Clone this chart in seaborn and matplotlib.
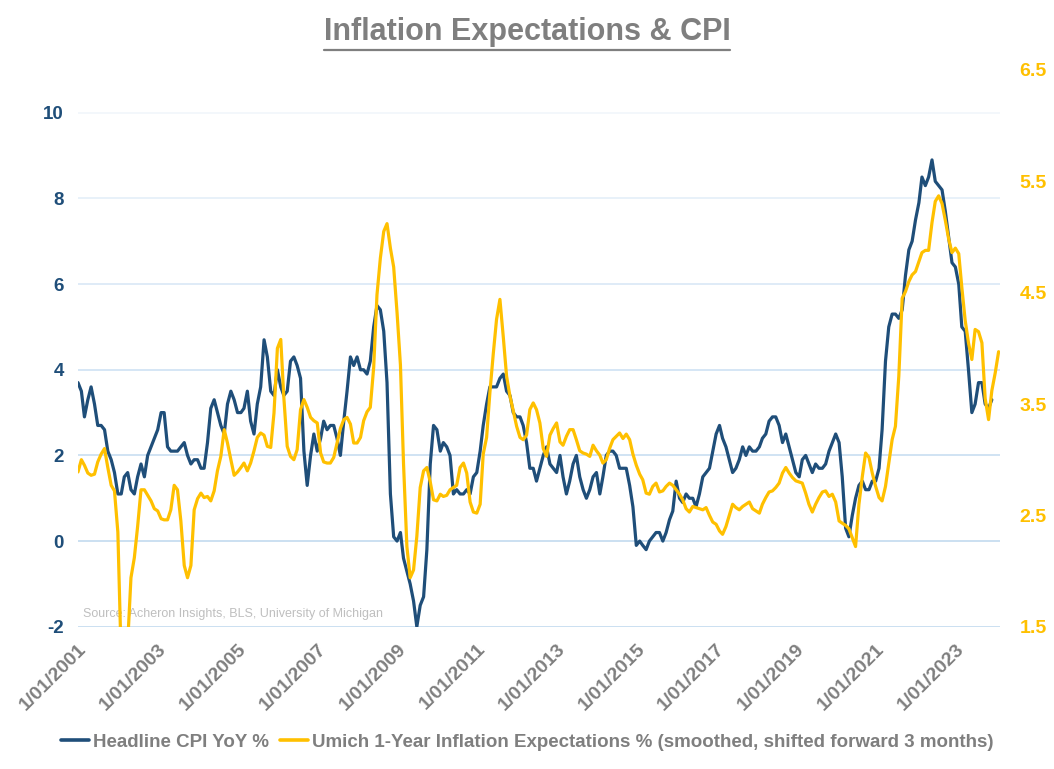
import pandas as pd
import matplotlib.pyplot as plt
import seaborn as sns
from matplotlib.lines import Line2D

# headline CPI YoY %, monthly from Jan 2001
cpi_start = "2001-01-01"
cpi_yoy = [
    3.7, 3.5, 2.9, 3.3, 3.6, 3.2, 2.7, 2.7, 2.6, 2.1, 1.9, 1.6,
    1.1, 1.1, 1.5, 1.6, 1.2, 1.1, 1.5, 1.8, 1.5, 2.0, 2.2, 2.4,
    2.6, 3.0, 3.0, 2.2, 2.1, 2.1, 2.1, 2.2, 2.3, 2.0, 1.8, 1.9,
    1.9, 1.7, 1.7, 2.3, 3.1, 3.3, 3.0, 2.7, 2.5, 3.2, 3.5, 3.3,
    3.0, 3.0, 3.1, 3.5, 2.8, 2.5, 3.2, 3.6, 4.7, 4.3, 3.5, 3.4,
    4.0, 3.6, 3.4, 3.5, 4.2, 4.3, 4.1, 3.8, 2.1, 1.3, 2.0, 2.5,
    2.1, 2.4, 2.8, 2.6, 2.7, 2.7, 2.4, 2.0, 2.8, 3.5, 4.3, 4.1,
    4.3, 4.0, 4.0, 3.9, 4.2, 5.0, 5.5, 5.4, 4.9, 3.7, 1.1, 0.1,
    0.0, 0.2, -0.4, -0.7, -1.0, -1.4, -2.0, -1.5, -1.3, -0.2, 1.8, 2.7,
    2.6, 2.1, 2.3, 2.2, 2.0, 1.1, 1.2, 1.1, 1.1, 1.2, 1.1, 1.5,
    1.6, 2.1, 2.7, 3.2, 3.6, 3.6, 3.6, 3.8, 3.9, 3.5, 3.4, 3.0,
    2.9, 2.9, 2.7, 2.3, 1.7, 1.7, 1.4, 1.7, 2.0, 2.2, 1.8, 1.7,
    1.6, 2.0, 1.5, 1.1, 1.4, 1.8, 2.0, 1.5, 1.2, 1.0, 1.2, 1.5,
    1.6, 1.1, 1.5, 2.0, 2.1, 2.1, 2.0, 1.7, 1.7, 1.7, 1.3, 0.8,
    -0.1, 0.0, -0.1, -0.2, 0.0, 0.1, 0.2, 0.2, 0.0, 0.2, 0.5, 0.7,
    1.4, 1.0, 0.9, 1.1, 1.0, 1.0, 0.8, 1.1, 1.5, 1.6, 1.7, 2.1,
    2.5, 2.7, 2.4, 2.2, 1.9, 1.6, 1.7, 1.9, 2.2, 2.0, 2.2, 2.1,
    2.1, 2.2, 2.4, 2.5, 2.8, 2.9, 2.9, 2.7, 2.3, 2.5, 2.2, 1.9,
    1.6, 1.5, 1.9, 2.0, 1.8, 1.6, 1.8, 1.7, 1.7, 1.8, 2.1, 2.3,
    2.5, 2.3, 1.5, 0.3, 0.1, 0.6, 1.0, 1.3, 1.4, 1.2, 1.2, 1.4,
    1.4, 1.7, 2.6, 4.2, 5.0, 5.3, 5.3, 5.2, 5.4, 6.2, 6.8, 7.0,
    7.5, 7.9, 8.5, 8.3, 8.5, 8.9, 8.4, 8.3, 8.2, 7.7, 7.1, 6.5,
    6.4, 6.0, 5.0, 4.9, 4.0, 3.0, 3.2, 3.7, 3.7, 3.2, 3.1, 3.3,
]

# Umich 1-year inflation expectations % (smoothed, shifted forward 3 months)
umich_start = "2001-01-01"
umich_1yr = [
    2.89, 3.00, 2.95, 2.88, 2.86, 2.87, 2.98, 3.05, 3.10, 2.93, 2.77, 2.72,
    2.35, 1.20, 1.00, 1.35, 1.94, 2.12, 2.40, 2.73, 2.73, 2.68, 2.63, 2.56,
    2.54, 2.47, 2.46, 2.46, 2.55, 2.77, 2.73, 2.45, 2.05, 1.94, 2.05, 2.55,
    2.65, 2.70, 2.66, 2.67, 2.63, 2.72, 2.90, 3.03, 3.27, 3.15, 3.00, 2.86,
    2.89, 2.93, 2.97, 2.90, 2.97, 3.08, 3.20, 3.24, 3.22, 3.12, 3.11, 3.42,
    4.00, 4.08, 3.56, 3.12, 3.03, 3.00, 3.09, 3.45, 3.54, 3.47, 3.38, 3.35,
    3.33, 3.06, 2.98, 2.97, 2.97, 3.02, 3.15, 3.28, 3.36, 3.38, 3.32, 3.15,
    3.15, 3.20, 3.35, 3.43, 3.47, 3.83, 4.48, 4.81, 5.05, 5.12, 4.90, 4.73,
    4.32, 3.85, 2.97, 2.22, 1.94, 2.01, 2.31, 2.75, 2.90, 2.93, 2.80, 2.64,
    2.63, 2.69, 2.67, 2.68, 2.73, 2.75, 2.77, 2.93, 2.97, 2.88, 2.62, 2.53,
    2.52, 2.60, 3.05, 3.20, 3.60, 3.95, 4.26, 4.44, 4.10, 3.75, 3.57, 3.44,
    3.30, 3.20, 3.18, 3.22, 3.45, 3.51, 3.45, 3.33, 3.10, 3.03, 3.22, 3.28,
    3.33, 3.16, 3.13, 3.21, 3.27, 3.27, 3.18, 3.08, 3.06, 3.05, 3.03, 3.13,
    3.08, 3.04, 2.97, 3.00, 3.10, 3.18, 3.21, 3.24, 3.19, 3.23, 3.18, 3.05,
    2.95, 2.87, 2.82, 2.70, 2.69, 2.76, 2.79, 2.71, 2.72, 2.76, 2.79, 2.77,
    2.73, 2.69, 2.64, 2.56, 2.53, 2.58, 2.57, 2.56, 2.55, 2.57, 2.50, 2.44,
    2.42, 2.36, 2.33, 2.40, 2.50, 2.60, 2.57, 2.55, 2.58, 2.60, 2.62, 2.56,
    2.54, 2.52, 2.60, 2.66, 2.71, 2.72, 2.75, 2.79, 2.88, 2.93, 2.88, 2.84,
    2.81, 2.80, 2.79, 2.70, 2.60, 2.53, 2.60, 2.66, 2.71, 2.72, 2.67, 2.69,
    2.62, 2.45, 2.43, 2.41, 2.38, 2.30, 2.22, 2.60, 2.85, 3.06, 3.02, 2.88,
    2.76, 2.66, 2.63, 2.76, 2.97, 3.18, 3.30, 3.75, 4.45, 4.51, 4.60, 4.66,
    4.69, 4.78, 4.86, 4.88, 4.88, 5.13, 5.32, 5.37, 5.30, 5.15, 4.98, 4.86,
    4.90, 4.85, 4.55, 4.25, 4.05, 3.90, 4.17, 4.15, 4.05, 3.55, 3.36, 3.62,
    3.78, 3.97,
]

x_tick_labels = ["1/01/2001", "1/01/2003", "1/01/2005", "1/01/2007", "1/01/2009", "1/01/2011",
                 "1/01/2013", "1/01/2015", "1/01/2017", "1/01/2019", "1/01/2021", "1/01/2023"]
left_ticks = [-2, 0, 2, 4, 6, 8, 10]
right_ticks = [1.5, 2.5, 3.5, 4.5, 5.5, 6.5]

cpi_label = "Headline CPI YoY %"
umich_label = "Umich 1-Year Inflation Expectations % (smoothed, shifted forward 3 months)"

BLUE = "#1F4E79"
GOLD = "#FFC000"
GREY = "#7F7F7F"

cpi_df = pd.DataFrame({"date": pd.date_range(cpi_start, periods=len(cpi_yoy), freq="MS"),
                       "value": cpi_yoy})
umich_df = pd.DataFrame({"date": pd.date_range(umich_start, periods=len(umich_1yr), freq="MS"),
                         "value": umich_1yr})

sns.set_style("white")
plt.rcParams["font.family"] = ["Liberation Sans", "DejaVu Sans"]

fig, ax = plt.subplots(figsize=(10.54, 7.69), dpi=100)
fig.subplots_adjust(left=0.074, right=0.949, bottom=0.185, top=0.909)
ax2 = ax.twinx()

sns.lineplot(data=cpi_df, x="date", y="value", ax=ax, color=BLUE, linewidth=2.3, legend=False)
sns.lineplot(data=umich_df, x="date", y="value", ax=ax2, color=GOLD, linewidth=2.3, legend=False)

ax.set_ylim(-2, 11)
ax2.set_ylim(1.5, 6.5)
ax.set_xlim(cpi_df["date"].iloc[0], umich_df["date"].iloc[-1] + pd.Timedelta(days=15))

ax.set_yticks(left_ticks)
ax.set_yticklabels([str(t) for t in left_ticks], fontsize=13.5, fontweight="bold", color=BLUE)
ax2.set_yticks(right_ticks)
ax2.set_yticklabels([str(t) for t in right_ticks], fontsize=14, fontweight="bold", color=GOLD)

tick_dates = pd.to_datetime(x_tick_labels, format="%m/%d/%Y")
ax.set_xticks(tick_dates)
ax.set_xticklabels(x_tick_labels, rotation=45, ha="right", va="top", rotation_mode="anchor",
                   fontsize=14, fontweight="bold", color=GREY)
ax.tick_params(axis="x", length=0, pad=10)
ax.tick_params(axis="y", length=0, pad=10)
ax2.tick_params(axis="y", length=0, pad=14)

ax.set_xlabel("")
ax.set_ylabel("")
ax2.set_ylabel("")
for a in (ax, ax2):
    for s in a.spines.values():
        s.set_visible(False)

# gridlines fade out toward the top
ax.grid(axis="y", linewidth=1.1)
grid_colors = ["#BDD7EE", "#BDD7EE", "#C3DBF0", "#CADFF2", "#D6E6F5", "#E2EDF8", "#F0F5FB"]
for gl, c in zip(ax.get_ygridlines(), grid_colors):
    gl.set_color(c)
ax.grid(axis="x", visible=False)
ax2.grid(False)

ax.text(0.005, 0.012, "Source: Acheron Insights, BLS, University of Michigan", transform=ax.transAxes,
        fontsize=9, color="#BFBFBF", ha="left", va="bottom")

title = fig.text(0.5, 0.958, "Inflation Expectations & CPI", ha="center", va="center",
                 fontsize=22, fontweight="bold", color=GREY,
                 family=["Liberation Sans Narrow", "Liberation Sans"])

handles = [Line2D([], [], color=BLUE, linewidth=2.6), Line2D([], [], color=GOLD, linewidth=2.6)]
fig.legend(handles, [cpi_label, umich_label], loc="center", bbox_to_anchor=(0.5, 0.035), ncol=2,
           frameon=False, prop={"size": 13.5, "weight": "bold"}, labelcolor=GREY,
           handlelength=1.5, handletextpad=0.2, columnspacing=0.6)

# underline the title
fig.canvas.draw()
bb = title.get_window_extent().transformed(fig.transFigure.inverted())
fig.add_artist(Line2D([bb.x0, bb.x1], [bb.y0 - 0.004, bb.y0 - 0.004], color=GREY, linewidth=1.6,
                      transform=fig.transFigure))

fig.savefig("out.png", dpi=100)
